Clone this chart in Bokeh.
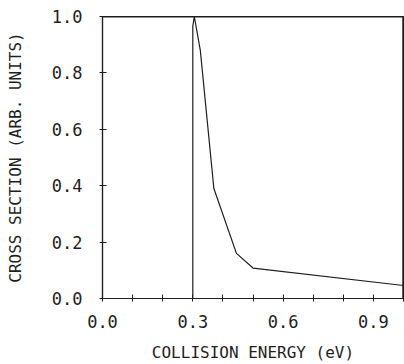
from bokeh.plotting import figure
from bokeh.models import FixedTicker, Range1d, Span
from bokeh.embed import file_html
from bokeh.resources import INLINE

energy = [0.30, 0.30, 0.305, 0.325, 0.37, 0.445, 0.50, 1.00]
cross_section = [0.0, 0.965, 1.0, 0.88, 0.39, 0.16, 0.108, 0.046]

x_major = [0.0, 0.3, 0.6, 0.9]
x_minor = [0.1, 0.2, 0.4, 0.5, 0.7, 0.8, 1.0]
y_major = [0.0, 0.2, 0.4, 0.6, 0.8, 1.0]

INK = "#1e1e1e"
FONT = "DejaVu Sans Mono"

p = figure(width=404, height=364, output_backend="svg", toolbar_location=None,
           x_range=Range1d(0, 1.0), y_range=Range1d(0, 1.0),
           min_border_left=102, min_border_right=1, min_border_top=16, min_border_bottom=66)
p.background_fill_color = "white"
p.border_fill_color = "white"
p.outline_line_color = INK
p.outline_line_width = 1.2
p.xgrid.visible = False
p.ygrid.visible = False

# frame top and right edges
p.add_layout(Span(location=0.999, dimension="width", line_color=INK, line_width=1.2))
p.add_layout(Span(location=0.998, dimension="height", line_color=INK, line_width=1.2))

p.line(energy, cross_section, line_color=INK, line_width=1.2)

p.xaxis.ticker = FixedTicker(ticks=x_major, minor_ticks=x_minor)
p.yaxis.ticker = FixedTicker(ticks=y_major, minor_ticks=[])
p.xaxis.major_label_overrides = {0.0: "0.0", 0.3: "0.3", 0.6: "0.6", 0.9: "0.9"}
p.yaxis.major_label_overrides = {0.0: "0.0", 0.2: "0.2", 0.4: "0.4", 0.6: "0.6", 0.8: "0.8", 1.0: "1.0"}

for ax in (p.xaxis[0], p.yaxis[0]):
    ax.axis_line_color = INK
    ax.axis_line_width = 1.2
    ax.major_tick_line_color = INK
    ax.minor_tick_line_color = INK
    ax.major_tick_in = 4
    ax.major_tick_out = 3
    ax.minor_tick_in = 4
    ax.minor_tick_out = 3
    ax.major_label_text_font = FONT
    ax.major_label_text_font_size = "17px"
    ax.major_label_text_color = INK
    ax.axis_label_text_font = FONT
    ax.axis_label_text_font_size = "16px"
    ax.axis_label_text_font_style = "normal"
    ax.axis_label_text_color = INK

p.xaxis.axis_label = "COLLISION ENERGY (eV)"
p.yaxis.axis_label = "CROSS SECTION (ARB. UNITS)"
p.xaxis.major_label_standoff = 13
p.yaxis.major_label_standoff = 17
p.xaxis.axis_label_standoff = 12
p.yaxis.axis_label_standoff = 24

open("out.html", "w").write(file_html(p, INLINE))
